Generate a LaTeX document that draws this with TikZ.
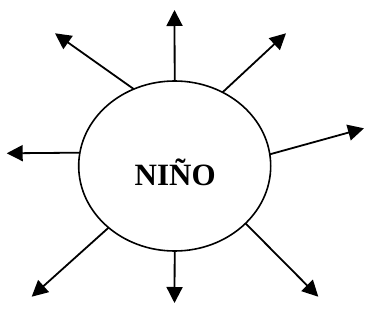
\documentclass[tikz,border=0pt]{standalone}
\usepackage{fontspec}
\setmainfont{Liberation Serif}
\usetikzlibrary{shapes.geometric,arrows.meta}
\begin{document}
\begin{tikzpicture}[x=1pt,y=1pt,
  ray/.style={line width=1.8pt,-{Triangle[length=16pt,width=16pt]}},
  blob/.style={ellipse,draw,line width=1.6pt,minimum width=192pt,minimum height=170pt,inner sep=0pt,outer sep=0pt}]
\useasboundingbox (0,0) rectangle (365,322);
\node[blob] (c) at (174.7,156) {};
\node[font=\bfseries\fontsize{31}{31}\selectfont] (t) at (175.2,150) {NIÑO};
\coordinate (pu) at (174.5,312);
\coordinate (pur) at (286,288.7);
\coordinate (pr) at (364,193.7);
\coordinate (pdr) at (318.3,25.3);
\coordinate (pd) at (174.5,19);
\coordinate (pdl) at (31.7,25.3);
\coordinate (pl) at (6.7,168.7);
\coordinate (pul) at (55,288.7);
\draw[ray] (c.90) -- (pu);
\draw[ray] (c.57) -- (pur);
\draw[ray] (c.7.5) -- (pr);
\draw[ray] (c.-39.3) -- (pdr);
\draw[ray] (c.-90) -- (pd);
\draw[ray] (c.223.3) -- (pdl);
\draw[ray] (c.172.5) -- (pl);
\draw[ray] (c.118.1) -- (pul);
\end{tikzpicture}
\end{document}
